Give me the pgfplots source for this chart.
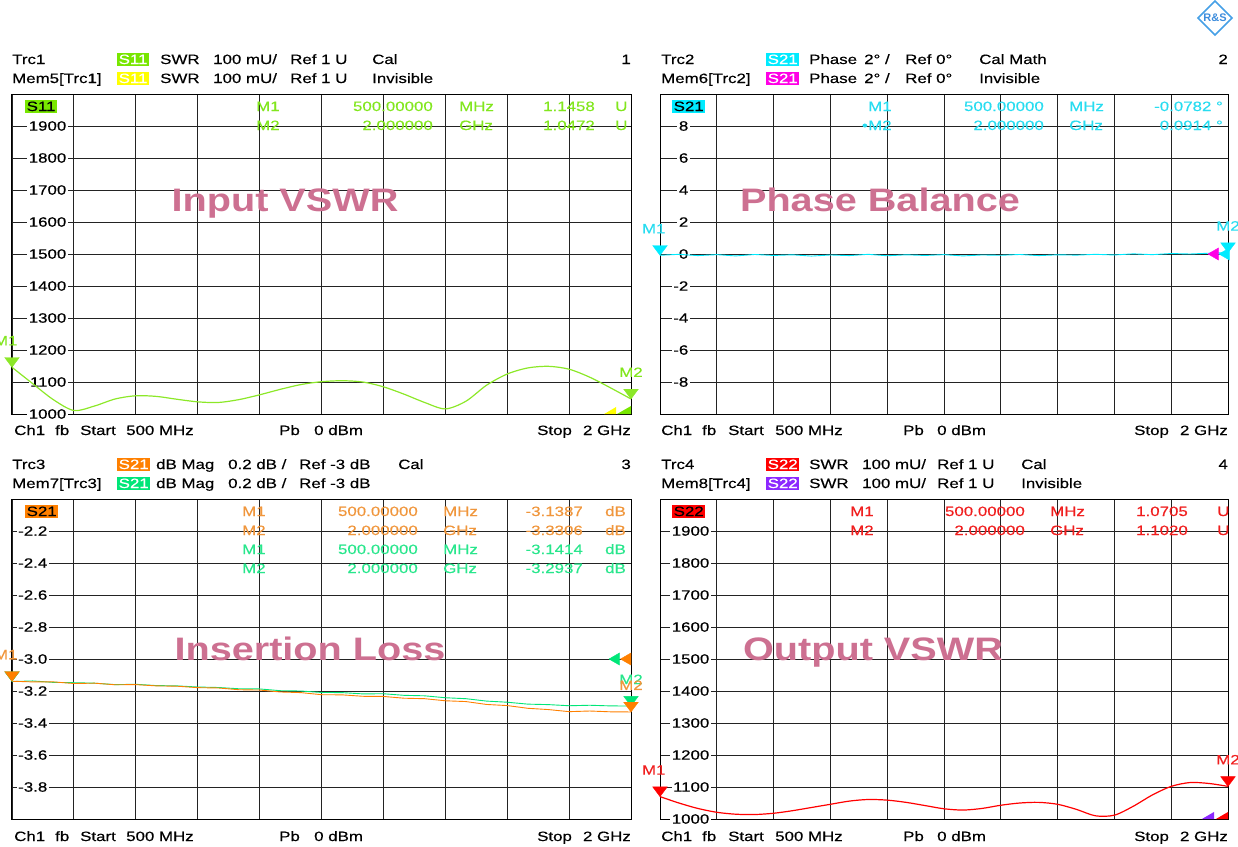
\documentclass[border=0pt]{standalone}
\usepackage{pgfplots}
\pgfplotsset{compat=1.18}
\usepackage{fontspec}
\setmainfont{Liberation Sans}
\newfontfamily\vna[FakeStretch=1.25,FakeBold=0.4]{Liberation Sans}
\newfontfamily\vnabig[FakeStretch=1.22]{Liberation Sans}

\definecolor{sgreen}{RGB}{120,230,0}
\definecolor{sgtrace}{RGB}{140,232,40}
\definecolor{gtext}{RGB}{130,230,30}
\definecolor{scyan}{RGB}{0,235,255}
\definecolor{ctext}{RGB}{40,220,240}
\definecolor{smag}{RGB}{255,0,230}
\definecolor{sorange}{RGB}{255,128,0}
\definecolor{otext}{RGB}{240,150,60}
\definecolor{smint}{RGB}{0,230,120}
\definecolor{mtext}{RGB}{40,230,140}
\definecolor{sred}{RGB}{255,0,0}
\definecolor{rtext}{RGB}{240,30,30}
\definecolor{spurple}{RGB}{140,40,255}
\definecolor{syellow}{RGB}{255,255,0}
\definecolor{pinklbl}{RGB}{205,112,145}
\definecolor{gridc}{RGB}{35,35,35}

\newcommand\tf{\vna\fontsize{13.5}{13.5}\selectfont}
% text helpers: colour, x, y (baseline, px from top), text
\newcommand\T[4][black]{\node[anchor=base west,font=\tf,text=#1,inner sep=0pt] at (#2pt,-#3pt) {#4};}
\newcommand\TE[4][black]{\node[anchor=base east,font=\tf,text=#1,inner sep=0pt] at (#2pt,-#3pt) {#4};}
\newcommand\B[5]{\node[anchor=base west,font=\tf,fill=#1,text=#2,inner xsep=1.5pt,inner ysep=2pt] at (#3pt,-#4pt) {#5};}
\newcommand\BIG[3]{\node[anchor=base,font=\vnabig\fontsize{32.5}{32.5}\selectfont\bfseries,text=pinklbl] at (#1pt,-#2pt) {#3};}

\tikzset{
  mlbl/.style={anchor=base, font=\tf, text=#1, yshift=22pt},
  mlblL/.style={anchor=base east, font=\tf, text=#1, yshift=22pt, xshift=9pt},
}
\pgfplotsset{
  vna/.style={
    scale only axis, height=320pt, anchor=south west,
    xmin=0.5, xmax=2.0,
    xtick={0.5,0.65,0.8,0.95,1.1,1.25,1.4,1.55,1.7,1.85,2.0},
    xticklabels={},
    grid=major, major grid style={draw=gridc, line width=0.9pt},
    axis line style={draw=black, line width=1pt},
    major tick length=0pt,
    clip=false,
    yticklabel style={font=\tf, anchor=east, fill=white, inner sep=1.5pt},
  },
  trace/.style={color=#1, line width=1.2pt},
  mdown/.style={only marks, color=#1, mark=triangle*, mark size=6.5pt,
    mark options={yshift=6.5pt, xscale=1.3, rotate=180}},
  mleft/.style 2 args={only marks, color=#1, mark=triangle*, mark size=7pt,
    mark options={xshift=#2, rotate=90}},
}

\begin{document}
\begin{tikzpicture}
\path[use as bounding box] (0pt,0pt) rectangle (1238pt,-846pt);

% ---------------- panel 1: input VSWR ----------------
\begin{axis}[vna, at={(12pt,-414pt)}, width=619pt,
  ymin=1000, ymax=2000, ytick={1000,1100,...,1900},
  yticklabels={1000,1100,1200,1300,1400,1500,1600,1700,1800,1900},
  yticklabel style={xshift=56pt}]
\addplot[trace=sgtrace, smooth] coordinates {
  (0.50,1146) (0.55,1095) (0.60,1045) (0.65,1011) (0.70,1025) (0.75,1047)
  (0.80,1057) (0.85,1055) (0.90,1046) (0.95,1038) (1.00,1036) (1.05,1045)
  (1.10,1060) (1.15,1077) (1.20,1092) (1.25,1101) (1.30,1104) (1.35,1100)
  (1.40,1085) (1.45,1062) (1.50,1036) (1.55,1016) (1.60,1040) (1.65,1090)
  (1.70,1125) (1.75,1144) (1.80,1149) (1.85,1140) (1.90,1115) (1.95,1082)
  (2.00,1047)};
\addplot[mdown=sgtrace] coordinates {(0.5,1146) (2.0,1047)};
\addplot[fill=syellow, draw=none] coordinates {(1.935,1000) (1.964,1000) (1.964,1022)} -- cycle;
\addplot[fill=sgreen, draw=none] coordinates {(1.966,1000) (2.0,1000) (2.0,1025)} -- cycle;
\node[mlblL=gtext] at (axis cs:0.5,1146) {M1};
\node[mlbl=gtext] at (axis cs:2.0,1047) {M2};
\end{axis}

% ---------------- panel 2: phase balance ----------------
\begin{axis}[vna, at={(660pt,-414pt)}, width=568pt,
  ymin=-10, ymax=10, ytick={-8,-6,...,8},
  yticklabels={-8,-6,-4,-2,0,2,4,6,8},
  yticklabel style={xshift=30pt}]
\addplot[trace=scyan, line width=0.9pt] coordinates {
  (0.50,-0.08) (0.55,-0.02) (0.60,-0.10) (0.65,-0.04) (0.70,-0.12) (0.75,-0.03)
  (0.80,-0.09) (0.85,-0.05) (0.90,-0.13) (0.95,-0.06) (1.00,-0.10) (1.05,-0.02)
  (1.10,-0.11) (1.15,-0.05) (1.20,-0.09) (1.25,-0.04) (1.30,-0.12) (1.35,-0.06)
  (1.40,-0.08) (1.45,-0.03) (1.50,-0.10) (1.55,-0.05) (1.60,-0.07) (1.65,-0.02)
  (1.70,-0.06) (1.75,0.01) (1.80,-0.04) (1.85,0.03) (1.90,0.00) (1.95,0.05)
  (2.00,0.09)};
\addplot[mleft={smag}{-13pt}] coordinates {(2.0,0)};
\addplot[mleft={scyan}{-2pt}] coordinates {(2.0,0)};
\addplot[mdown=scyan] coordinates {(0.5,-0.08) (2.0,0.09)};
\node[mlblL=ctext] at (axis cs:0.5,-0.08) {M1};
\node[mlbl=ctext] at (axis cs:2.0,0.09) {M2};
\end{axis}

% ---------------- panel 3: insertion loss ----------------
\begin{axis}[vna, at={(12pt,-819pt)}, width=619pt,
  ymin=-4, ymax=-2, ytick={-3.8,-3.6,-3.4,-3.2,-3.0,-2.8,-2.6,-2.4,-2.2},
  yticklabels={-3.8,-3.6,-3.4,-3.2,-3.0,-2.8,-2.6,-2.4,-2.2},
  yticklabel style={xshift=37pt}]
\addplot[trace=smint, line width=0.9pt] coordinates {
  (0.50,-3.141) (0.55,-3.137) (0.60,-3.146) (0.65,-3.148) (0.70,-3.151)
  (0.75,-3.160) (0.80,-3.158) (0.85,-3.166) (0.90,-3.168) (0.95,-3.175)
  (1.00,-3.178) (1.05,-3.186) (1.10,-3.187) (1.15,-3.198) (1.20,-3.200)
  (1.25,-3.209) (1.30,-3.210) (1.35,-3.218) (1.40,-3.217) (1.45,-3.227)
  (1.50,-3.230) (1.55,-3.242) (1.60,-3.248) (1.65,-3.263) (1.70,-3.270)
  (1.75,-3.282) (1.80,-3.285) (1.85,-3.292) (1.90,-3.289) (1.95,-3.293)
  (2.00,-3.294)};
\addplot[trace=sorange, line width=0.9pt] coordinates {
  (0.50,-3.139) (0.55,-3.143) (0.60,-3.143) (0.65,-3.153) (0.70,-3.151)
  (0.75,-3.161) (0.80,-3.160) (0.85,-3.168) (0.90,-3.170) (0.95,-3.179)
  (1.00,-3.181) (1.05,-3.192) (1.10,-3.194) (1.15,-3.206) (1.20,-3.210)
  (1.25,-3.223) (1.30,-3.224) (1.35,-3.233) (1.40,-3.234) (1.45,-3.245)
  (1.50,-3.248) (1.55,-3.261) (1.60,-3.266) (1.65,-3.284) (1.70,-3.291)
  (1.75,-3.308) (1.80,-3.316) (1.85,-3.329) (1.90,-3.325) (1.95,-3.330)
  (2.00,-3.331)};
\addplot[mleft={smint}{-15pt}] coordinates {(2.0,-3.0)};
\addplot[mleft={sorange}{-3.5pt}] coordinates {(2.0,-3.0)};
\addplot[mdown=smint] coordinates {(0.5,-3.141) (2.0,-3.294)};
\addplot[mdown=sorange] coordinates {(0.5,-3.139) (2.0,-3.331)};
\node[mlbl=mtext] at (axis cs:2.0,-3.294) {M2};
\node[mlblL=otext] at (axis cs:0.5,-3.139) {M1};
\node[mlbl=otext] at (axis cs:2.0,-3.331) {M2};
\end{axis}

% ---------------- panel 4: output VSWR ----------------
\begin{axis}[vna, at={(660pt,-819pt)}, width=568pt,
  ymin=1000, ymax=2000, ytick={1000,1100,...,1900},
  yticklabels={1000,1100,1200,1300,1400,1500,1600,1700,1800,1900},
  yticklabel style={xshift=51pt}]
\addplot[trace=sred, smooth] coordinates {
  (0.50,1070) (0.55,1050) (0.60,1033) (0.65,1021) (0.70,1015) (0.75,1014)
  (0.80,1018) (0.85,1026) (0.90,1036) (0.95,1046) (1.00,1056) (1.05,1061)
  (1.10,1059) (1.15,1052) (1.20,1042) (1.25,1032) (1.30,1028) (1.35,1033)
  (1.40,1043) (1.45,1050) (1.50,1052) (1.55,1046) (1.60,1030) (1.65,1010)
  (1.70,1012) (1.75,1040) (1.80,1075) (1.85,1102) (1.90,1114) (1.95,1111)
  (2.00,1102)};
\addplot[mdown=sred] coordinates {(0.5,1070) (2.0,1102)};
\addplot[fill=spurple, draw=none] coordinates {(1.931,1000) (1.963,1000) (1.963,1022)} -- cycle;
\addplot[fill=sred, draw=none] coordinates {(1.968,1000) (2.0,1000) (2.0,1022)} -- cycle;
\node[mlblL=rtext] at (axis cs:0.5,1070) {M1};
\node[mlbl=rtext] at (axis cs:2.0,1102) {M2};
\end{axis}

% ---------------- headers ----------------
\T{12}{64}{Trc1}\B{sgreen}{white}{117}{64}{S11}\T{160}{64}{SWR}\T{213}{64}{100 mU/}\T{290}{64}{Ref 1 U}\T{372}{64}{Cal}\TE{631}{64}{1}
\T{12}{83}{Mem5[Trc1]}\B{syellow}{white}{117}{83}{S11}\T{160}{83}{SWR}\T{213}{83}{100 mU/}\T{290}{83}{Ref 1 U}\T{372}{83}{Invisible}

\T{661}{64}{Trc2}\B{scyan}{white}{766}{64}{S21}\T{809}{64}{Phase}\T{864}{64}{2° /}\T{905}{64}{Ref 0°}\T{979}{64}{Cal Math}\TE{1228}{64}{2}
\T{661}{83}{Mem6[Trc2]}\B{smag}{white}{766}{83}{S21}\T{809}{83}{Phase}\T{864}{83}{2° /}\T{905}{83}{Ref 0°}\T{979}{83}{Invisible}

\T{12}{469}{Trc3}\B{sorange}{white}{117}{469}{S21}\T{156}{469}{dB Mag}\T{228}{469}{0.2 dB /}\T{299}{469}{Ref -3 dB}\T{398}{469}{Cal}\TE{631}{469}{3}
\T{12}{488}{Mem7[Trc3]}\B{smint}{white}{117}{488}{S21}\T{156}{488}{dB Mag}\T{228}{488}{0.2 dB /}\T{299}{488}{Ref -3 dB}

\T{661}{469}{Trc4}\B{sred}{white}{766}{469}{S22}\T{809}{469}{SWR}\T{862}{469}{100 mU/}\T{937}{469}{Ref 1 U}\T{1021}{469}{Cal}\TE{1228}{469}{4}
\T{661}{488}{Mem8[Trc4]}\B{spurple}{white}{766}{488}{S22}\T{809}{488}{SWR}\T{862}{488}{100 mU/}\T{937}{488}{Ref 1 U}\T{1021}{488}{Invisible}

% ---------------- trace labels inside the grids ----------------
\B{sgreen}{black}{25}{111}{S11}
\B{scyan}{black}{672}{111}{S21}
\B{sorange}{black}{25}{516}{S21}
\B{sred}{black}{672}{516}{S22}

% ---------------- marker readouts ----------------
\T[gtext]{256}{111}{M1}\TE[gtext]{433}{111}{500.00000}\T[gtext]{459}{111}{MHz}\TE[gtext]{595}{111}{1.1458}\T[gtext]{615}{111}{U}
\T[gtext]{256}{130}{M2}\TE[gtext]{433}{130}{2.000000}\T[gtext]{459}{130}{GHz}\TE[gtext]{595}{130}{1.0472}\T[gtext]{615}{130}{U}

\T[ctext]{868}{111}{M1}\TE[ctext]{1044}{111}{500.00000}\T[ctext]{1069}{111}{MHz}\TE[ctext]{1223}{111}{-0.0782 °}
\TE[ctext]{868}{130}{•}\T[ctext]{868}{130}{M2}\TE[ctext]{1044}{130}{2.000000}\T[ctext]{1069}{130}{GHz}\TE[ctext]{1223}{130}{0.0914 °}

\T[otext]{242}{516}{M1}\TE[otext]{418}{516}{500.00000}\T[otext]{443}{516}{MHz}\TE[otext]{583}{516}{-3.1387}\T[otext]{605}{516}{dB}
\T[otext]{242}{535}{M2}\TE[otext]{418}{535}{2.000000}\T[otext]{443}{535}{GHz}\TE[otext]{583}{535}{-3.3306}\T[otext]{605}{535}{dB}
\T[mtext]{242}{554}{M1}\TE[mtext]{418}{554}{500.00000}\T[mtext]{443}{554}{MHz}\TE[mtext]{583}{554}{-3.1414}\T[mtext]{605}{554}{dB}
\T[mtext]{242}{573}{M2}\TE[mtext]{418}{573}{2.000000}\T[mtext]{443}{573}{GHz}\TE[mtext]{583}{573}{-3.2937}\T[mtext]{605}{573}{dB}

\T[rtext]{850}{516}{M1}\TE[rtext]{1025}{516}{500.00000}\T[rtext]{1050}{516}{MHz}\TE[rtext]{1188}{516}{1.0705}\T[rtext]{1217}{516}{U}
\T[rtext]{850}{535}{M2}\TE[rtext]{1025}{535}{2.000000}\T[rtext]{1050}{535}{GHz}\TE[rtext]{1188}{535}{1.1020}\T[rtext]{1217}{535}{U}

% ---------------- footers ----------------
\T{14}{435}{Ch1}\T{55}{435}{fb}\T{80}{435}{Start}\T{126}{435}{500 MHz}\T{279}{435}{Pb}\T{314}{435}{0 dBm}\T{537}{435}{Stop}\TE{631}{435}{2 GHz}
\T{661}{435}{Ch1}\T{702}{435}{fb}\T{728}{435}{Start}\T{775}{435}{500 MHz}\T{903}{435}{Pb}\T{937}{435}{0 dBm}\T{1134}{435}{Stop}\TE{1228}{435}{2 GHz}
\T{14}{841}{Ch1}\T{55}{841}{fb}\T{80}{841}{Start}\T{126}{841}{500 MHz}\T{279}{841}{Pb}\T{314}{841}{0 dBm}\T{537}{841}{Stop}\TE{631}{841}{2 GHz}
\T{661}{841}{Ch1}\T{702}{841}{fb}\T{728}{841}{Start}\T{775}{841}{500 MHz}\T{903}{841}{Pb}\T{937}{841}{0 dBm}\T{1134}{841}{Stop}\TE{1228}{841}{2 GHz}

% ---------------- big labels ----------------
\BIG{285}{211}{Input VSWR}
\BIG{880}{211}{Phase Balance}
\BIG{310}{660}{Insertion Loss}
\BIG{873}{660}{Output VSWR}

% ---------------- logo ----------------
\node[draw={rgb,255:red,70;green,160;blue,230}, line width=1.5pt, rotate=45, minimum size=24pt, inner sep=0pt] at (1215pt,-18pt) {};
\node[font=\fontsize{11}{11}\selectfont\bfseries, text={rgb,255:red,60;green,140;blue,220}] at (1215pt,-18pt) {R\&S};
\end{tikzpicture}
\end{document}
